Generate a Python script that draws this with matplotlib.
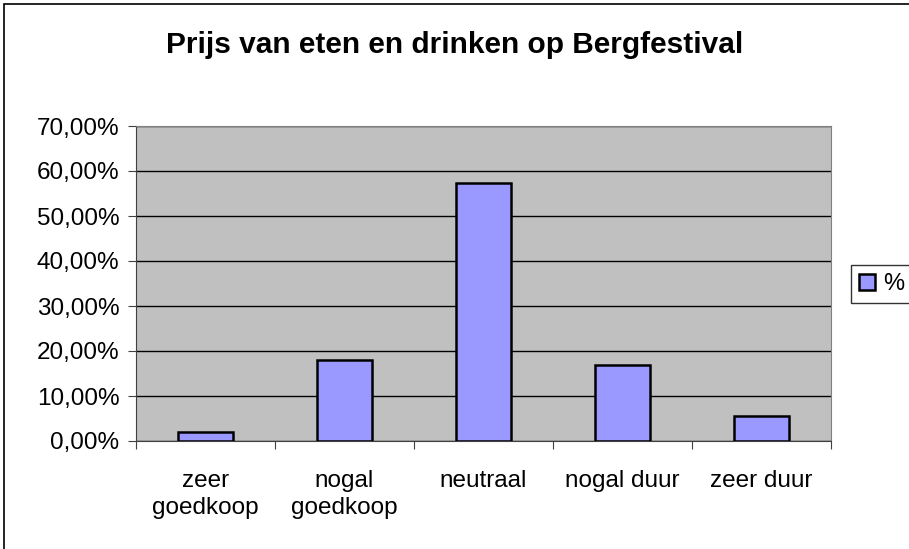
import matplotlib.pyplot as plt
from matplotlib.patches import Rectangle
import numpy as np

plt.rcParams['font.family'] = ['Liberation Sans', 'DejaVu Sans']

# data
categories = ['zeer\ngoedkoop', 'nogal\ngoedkoop', 'neutraal', 'nogal duur', 'zeer duur']
values = [1.9, 18.0, 57.4, 16.9, 5.6]
ytick_vals = [0, 10, 20, 30, 40, 50, 60, 70]
ytick_labels = ['0,00%', '10,00%', '20,00%', '30,00%', '40,00%', '50,00%', '60,00%', '70,00%']

fig = plt.figure(figsize=(9.09, 5.49), dpi=100)
ax = fig.add_axes([136 / 909, 1 - 441 / 549, 695 / 909, 315 / 549])

x = np.arange(len(categories))
ax.set_facecolor('#C0C0C0')
ax.bar(x, values, width=0.4, color='#9999FF', edgecolor='black', linewidth=1.8,
       zorder=3, label='%')

ax.set_xlim(-0.5, len(categories) - 0.5)
ax.set_ylim(0, 70)
ax.set_yticks(ytick_vals)
ax.set_yticklabels(ytick_labels, fontsize=17.5)
ax.yaxis.grid(True, color='black', linewidth=1, zorder=1)

# x ticks at category boundaries, labels centred
ax.set_xticks(np.arange(-0.5, len(categories), 1))
ax.set_xticklabels([])
ax.set_xticks(x, minor=True)
ax.set_xticklabels(categories, minor=True, fontsize=17.5, linespacing=1.3)
ax.tick_params(axis='x', which='minor', length=0, pad=21)
ax.tick_params(axis='x', which='major', length=6, direction='out', color='#404040')
ax.tick_params(axis='y', length=6, direction='out', pad=6, color='#404040')

for side in ['top', 'right']:
    ax.spines[side].set_color('#808080')
ax.spines['left'].set_color('#404040')
ax.spines['bottom'].set_color('#404040')

fig.text(0.5, 1 - 45 / 549, 'Prijs van eten en drinken op Bergfestival',
         ha='center', va='center', fontsize=21.5, fontweight='bold')

leg = fig.legend(loc='center left', bbox_to_anchor=(851 / 909, 1 - 284 / 549),
                 fontsize=17, frameon=True, fancybox=False, edgecolor='black',
                 handlelength=0.65, handleheight=0.65, handletextpad=0.34,
                 borderpad=0.35, borderaxespad=0)
leg.get_frame().set_linewidth(1)

# outer chart border
fig.patches.append(Rectangle((4 / 909, -0.05), 1.2, 1 - 4 / 549 + 0.05,
                             transform=fig.transFigure, fill=False,
                             edgecolor='black', linewidth=1.2))

fig.savefig('out.png', dpi=100)
